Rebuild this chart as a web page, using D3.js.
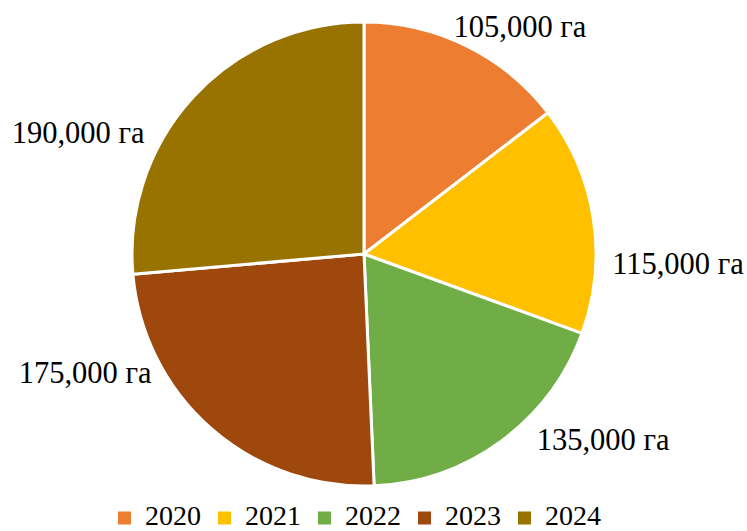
<!DOCTYPE html>
<html>
<head>
<meta charset="utf-8">
<script src="https://cdn.jsdelivr.net/npm/d3@7"></script>
<style>
  html, body { margin: 0; padding: 0; background: #fff; }
  svg { display: block; }
  text { font-family: "Liberation Serif", "Times New Roman", serif; fill: #000; }
</style>
</head>
<body>
<div id="chart"></div>
<script>
// Data
const years = ["2020", "2021", "2022", "2023", "2024"];
const areas = [105000, 115000, 135000, 175000, 190000];
const unit = "га";
const colors = ["#ED7D31", "#FFC000", "#70AD47", "#9E480E", "#997300"];

// Label placement (angle in degrees from 12 o'clock, distance relative to radius)
const labelAngle = [34.5, 91.8, 127.9, 246.9, 292.9];
const labelDist = [1.187, 1.354, 1.306, 1.307, 1.338];

const W = 747, H = 531;
const cx = 364, cy = 254, R = 232;

const svg = d3.select("#chart").append("svg")
  .attr("width", W).attr("height", H);

const data = years.map((y, i) => ({ year: y, value: areas[i], i }));

const pie = d3.pie().sort(null).value(d => d.value).startAngle(0).endAngle(2 * Math.PI);
const arc = d3.arc().innerRadius(0).outerRadius(R);
const color = d3.scaleOrdinal().domain(years).range(colors);

const g = svg.append("g").attr("transform", `translate(${cx},${cy})`);

g.selectAll("path.slice")
  .data(pie(data))
  .join("path")
  .attr("class", "slice")
  .attr("d", arc)
  .attr("fill", d => color(d.data.year))
  .attr("stroke", "#fff")
  .attr("stroke-width", 3)
  .attr("stroke-linejoin", "round");

const fmt = d3.format(",");
g.selectAll("text.lbl")
  .data(pie(data))
  .join("text")
  .attr("class", "lbl")
  .attr("text-anchor", "middle")
  .attr("font-size", 30.5)
  .attr("x", d => Math.sin(labelAngle[d.index] * Math.PI / 180) * R * labelDist[d.index])
  .attr("y", d => -Math.cos(labelAngle[d.index] * Math.PI / 180) * R * labelDist[d.index] + 10)
  .text(d => fmt(d.data.value) + " " + unit);

// Legend
const legStep = 100, legX0 = 118, legY = 511.5, sq = 13;
const leg = svg.append("g");
const items = leg.selectAll("g.item")
  .data(years)
  .join("g")
  .attr("class", "item")
  .attr("transform", (d, i) => `translate(${legX0 + i * legStep},${legY})`);
items.append("rect")
  .attr("width", sq).attr("height", sq)
  .attr("fill", d => color(d));
items.append("text")
  .attr("x", 27).attr("y", 13)
  .attr("font-size", 28)
  .text(d => d);
</script>
</body>
</html>
